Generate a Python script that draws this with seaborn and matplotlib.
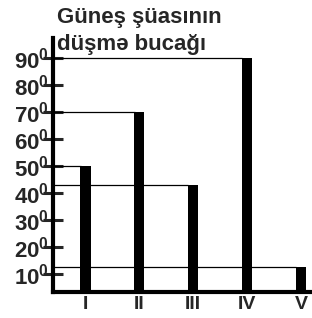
import matplotlib
matplotlib.use('Agg')
import matplotlib.pyplot as plt
import seaborn as sns
import pandas as pd

# Günəş şüasının düşmə bucağı (degrees) per zone
categories = ['I', 'II', 'III', 'IV', 'V']
angles = [50, 70, 43, 90, 12.5]
y_ticks = [10, 20, 30, 40, 50, 60, 70, 80, 90]
title_lines = ['Güneş şüasının', 'düşmə bucağı']

sns.set_style('white')
plt.rcParams['font.family'] = ['Liberation Sans', 'DejaVu Sans']
plt.rcParams['mathtext.fontset'] = 'custom'
plt.rcParams['mathtext.rm'] = 'Liberation Sans'
plt.rcParams['mathtext.bf'] = 'Liberation Sans:bold'

df = pd.DataFrame({'zone': categories, 'angle': angles})

fig = plt.figure(figsize=(3.12, 3.18), dpi=100)
ax = fig.add_axes([53/312, 26/318, 1 - 53/312, 254/318])

sns.barplot(data=df, x='zone', y='angle', color='black', width=0.19,
            saturation=1, linewidth=0, ax=ax)

ax.set_xlim(-0.603, 4.204)
ax.set_ylim(3.3, 97.4)

# thin guide lines from the axis to each bar
for i, v in enumerate(angles):
    ax.hlines(v, -0.603, i - 0.09, color='black', linewidth=0.9, zorder=1)

ax.set_yticks(y_ticks)
ax.set_yticklabels([r'$\mathbf{%d^0}$' % t for t in y_ticks], fontsize=16)
ax.tick_params(axis='y', direction='inout', length=14, width=2.2, pad=-4,
               left=True)
ax.tick_params(axis='x', length=0, pad=3, labelsize=14)
for lab in ax.get_xticklabels():
    lab.set_fontweight('bold')

ax.set_xlabel('')
ax.set_ylabel('')
for s in ['top', 'right']:
    ax.spines[s].set_visible(False)
ax.spines['left'].set_linewidth(3)
ax.spines['bottom'].set_linewidth(3)
ax.spines['left'].set_color('black')
ax.spines['bottom'].set_color('black')

fig.text(57/312, 1 - 23/318, title_lines[0], fontsize=16, ha='left',
         va='baseline', fontweight='bold')
fig.text(57/312, 1 - 50/318, title_lines[1], fontsize=16, ha='left',
         va='baseline', fontweight='bold')

fig.savefig('out.png', dpi=100)
